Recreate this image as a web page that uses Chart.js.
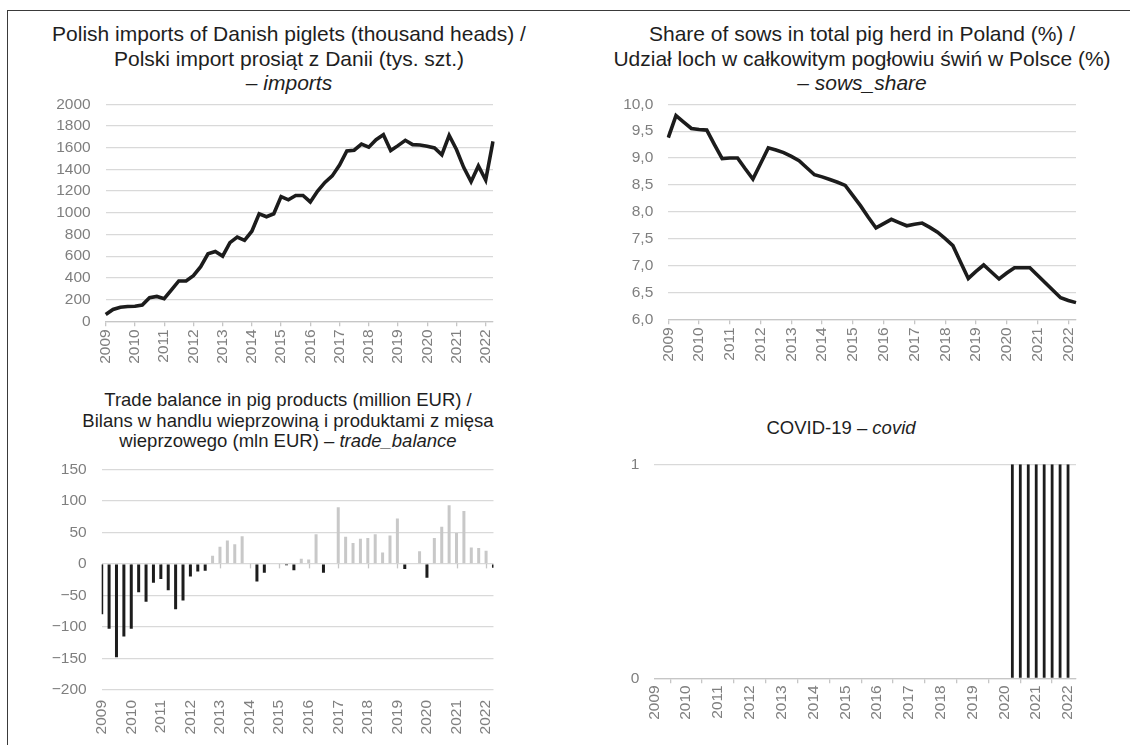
<!DOCTYPE html>
<html>
<head>
<meta charset="utf-8">
<script src="https://cdn.jsdelivr.net/npm/chart.js@4.4.1/dist/chart.umd.min.js"></script>
<style>
  html, body { margin: 0; padding: 0; background: #fff; }
  body { width: 1130px; height: 745px; position: relative; overflow: hidden; font-family: "Liberation Sans", Arial, sans-serif; }
  .frame { position: absolute; left: 7px; top: 10px; width: 1130px; height: 745px; border-top: 1.5px solid #3a3a3a; border-left: 1.5px solid #3a3a3a; }
  canvas { position: absolute; }
  .title { position: absolute; text-align: center; color: #1e1e1e; white-space: nowrap; }
  .title i { font-style: italic; }
</style>
</head>
<body>
<div class="frame"></div>

<div class="title" id="t1" style="left:9px; top:22px; width:560px; font-size:21px; line-height:24.5px;">
  Polish imports of Danish piglets (thousand heads) /<br>Polski import prosiąt z Danii (tys. szt.)<br>– <i>imports</i>
</div>
<div class="title" id="t2" style="left:582px; top:22px; width:560px; font-size:21px; line-height:24.5px;">
  Share of sows in total pig herd in Poland (%) /<br>Udział loch w całkowitym pogłowiu świń w Polsce (%)<br>– <i>sows_share</i>
</div>
<div class="title" id="t3" style="left:38px; top:390px; width:500px; font-size:18.5px; line-height:20.5px;">
  Trade balance in pig products (million EUR) /<br>Bilans w handlu wieprzowiną i produktami z mięsa<br>wieprzowego (mln EUR) – <i>trade_balance</i>
</div>
<div class="title" id="t4" style="left:591px; top:418px; width:500px; font-size:18.5px; line-height:20.5px;">
  COVID-19 – <i>covid</i>
</div>

<canvas id="c1" width="515" height="300" style="left:0px; top:80px;"></canvas>
<canvas id="c2" width="565" height="300" style="left:565px; top:80px;"></canvas>
<canvas id="c3" width="515" height="300" style="left:0px; top:445px;"></canvas>
<canvas id="c4" width="565" height="305" style="left:565px; top:440px;"></canvas>

<script>
// ---------- DATA ----------
const quarters = [
  '2009Q1','2009Q2','2009Q3','2009Q4','2010Q1','2010Q2','2010Q3','2010Q4',
  '2011Q1','2011Q2','2011Q3','2011Q4','2012Q1','2012Q2','2012Q3','2012Q4',
  '2013Q1','2013Q2','2013Q3','2013Q4','2014Q1','2014Q2','2014Q3','2014Q4',
  '2015Q1','2015Q2','2015Q3','2015Q4','2016Q1','2016Q2','2016Q3','2016Q4',
  '2017Q1','2017Q2','2017Q3','2017Q4','2018Q1','2018Q2','2018Q3','2018Q4',
  '2019Q1','2019Q2','2019Q3','2019Q4','2020Q1','2020Q2','2020Q3','2020Q4',
  '2021Q1','2021Q2','2021Q3','2021Q4','2022Q1','2022Q2'
];

const imports = [
  63, 109, 130, 136, 139, 150, 218, 229, 208, 290,
  372, 372, 420, 504, 622, 643, 601, 725, 776, 746,
  830, 991, 964, 991, 1150, 1120, 1160, 1160, 1100, 1200,
  1280, 1340, 1440, 1570, 1577, 1634, 1605, 1674, 1719, 1574,
  1619, 1668, 1628, 1625, 1614, 1598, 1535, 1713, 1583, 1417,
  1287, 1432, 1302, 1659
];

const sowsShare = [
  9.38, 9.79, 9.67, 9.55, 9.53, 9.52, 9.25, 8.99, 9.00, 9.00,
  8.80, 8.61, 8.90, 9.19, 9.15, 9.10, 9.03, 8.95, 8.82, 8.69,
  8.65, 8.60, 8.55, 8.49, 8.30, 8.11, 7.90, 7.70, 7.78, 7.86,
  7.80, 7.74, 7.77, 7.79, 7.71, 7.62, 7.50, 7.37, 7.06, 6.76,
  6.89, 7.01, 6.88, 6.75, 6.86, 6.96, 6.96, 6.96, 6.82, 6.68,
  6.54, 6.40, 6.35, 6.31
];

const tradeBalance = [
  -80, -103, -148, -115, -103, -45, -60, -30, -24, -42,
  -72, -58, -20, -12, -11, 13, 27, 37, 31, 44,
  -1, -28, -14, -1, 0, -2, -10, 8, 7, 47,
  -14, 1, 90, 43, 33, 40, 41, 47, 18, 45,
  72, -8, 0, 20, -22, 41, 59, 93, 49, 84,
  26, 25, 21, -6
];

const covid = [
  0, 0, 0, 0, 0, 0, 0, 0, 0, 0,
  0, 0, 0, 0, 0, 0, 0, 0, 0, 0,
  0, 0, 0, 0, 0, 0, 0, 0, 0, 0,
  0, 0, 0, 0, 0, 0, 0, 0, 0, 0,
  0, 0, 0, 0, 0, 1, 1, 1, 1, 1,
  1, 1, 1, 0
];

const importsTicks = { min: 0, max: 2000, step: 200 };
const sowsTicks = { min: 6, max: 10, step: 0.5 };
const tradeTicks = { min: -200, max: 150, step: 50 };
const covidTicks = { min: 0, max: 1, step: 1 };

// ---------- STYLE ----------
const FONT = '"Liberation Sans", Arial, sans-serif';
const TICK_COLOR = '#7f7f7f';
const GRID_COLOR = '#d9d9d9';
const AXIS_COLOR = '#c6c6c6';
const INK = '#1c1c1c';
const BAR_POS = '#c8c8c8';

function yearLabel(i) {
  const q = quarters[i];
  return q.endsWith('Q1') ? q.slice(0, 4) : null;
}

function xAxis(h, opts) {
  return {
    type: 'category',
    offset: false,
    grid: {
      drawOnChartArea: false,
      drawTicks: opts.ticks,
      tickLength: 5,
      color: AXIS_COLOR,
      lineWidth: 1.3
    },
    border: { display: opts.border, color: AXIS_COLOR, width: 1.3 },
    ticks: {
      autoSkip: false,
      maxRotation: 90,
      minRotation: 90,
      padding: opts.pad,
      color: TICK_COLOR,
      font: { family: FONT, size: 15.5 },
      callback: (v, i) => yearLabel(i)
    },
    afterFit: s => { s.height = h; }
  };
}

function yAxis(w, t, fmt) {
  return {
    min: t.min, max: t.max,
    grid: { color: GRID_COLOR, lineWidth: 1.3, drawTicks: false },
    border: { display: false },
    ticks: {
      stepSize: t.step,
      padding: 15,
      color: TICK_COLOR,
      font: { family: FONT, size: 15.5 },
      callback: fmt
    },
    afterFit: s => { s.width = w; }
  };
}

const common = {
  responsive: false,
  animation: false,
  devicePixelRatio: 1,
  plugins: { legend: { display: false }, tooltip: { enabled: false } }
};

const zeroTicks = {
  id: 'zeroTicks',
  beforeDatasetsDraw(chart) {
    const xs = chart.scales.x, ys = chart.scales.y;
    const y0 = ys.getPixelForValue(0);
    const ctx = chart.ctx;
    ctx.save();
    ctx.strokeStyle = AXIS_COLOR;
    ctx.lineWidth = 1.3;
    xs.ticks.forEach((t, i) => {
      if (t.label == null || t.label === '') return;
      const px = Math.round(xs.getPixelForTick(i)) + 0.5;
      ctx.beginPath();
      ctx.moveTo(px, y0);
      ctx.lineTo(px, y0 + 4.5);
      ctx.stroke();
    });
    ctx.restore();
  }
};

// 1. imports
new Chart(document.getElementById('c1'), {
  type: 'line',
  data: { labels: quarters, datasets: [{ data: imports, borderColor: INK, borderWidth: 3.6, pointRadius: 0, tension: 0, fill: false }] },
  options: Object.assign({}, common, {
    layout: { padding: { top: 20.7, right: 22, left: 0, bottom: 0 } },
    scales: {
      x: xAxis(58.7, { ticks: true, border: true, pad: 3 }),
      y: yAxis(105.7, importsTicks, v => String(v))
    }
  })
});

// 2. sows share
new Chart(document.getElementById('c2'), {
  type: 'line',
  data: { labels: quarters, datasets: [{ data: sowsShare, borderColor: INK, borderWidth: 3.6, pointRadius: 0, tension: 0, fill: false }] },
  options: Object.assign({}, common, {
    layout: { padding: { top: 21, right: 54, left: 0, bottom: 0 } },
    scales: {
      x: xAxis(60.7, { ticks: true, border: true, pad: 3 }),
      y: yAxis(103.3, sowsTicks, v => Number(v).toFixed(1).replace('.', ','))
    }
  })
});

// 3. trade balance
new Chart(document.getElementById('c3'), {
  type: 'bar',
  data: { labels: quarters, datasets: [{
    data: tradeBalance,
    backgroundColor: tradeBalance.map(v => v < 0 ? INK : BAR_POS),
    barThickness: 3,
    borderWidth: 0,
    inflateAmount: 0
  }] },
  options: Object.assign({}, common, {
    layout: { padding: { top: 18.3, right: 16.7, left: 0, bottom: 0 } },
    scales: {
      x: xAxis(55, { ticks: false, border: false, pad: 10 }),
      y: yAxis(101.7, tradeTicks, v => v < 0 ? '\u2212' + Math.abs(v) : String(v))
    }
  }),
  plugins: [zeroTicks]
});

// 4. covid
new Chart(document.getElementById('c4'), {
  type: 'bar',
  data: { labels: quarters, datasets: [{
    data: covid,
    backgroundColor: INK,
    barThickness: 2.8,
    borderWidth: 0,
    inflateAmount: 0
  }] },
  options: Object.assign({}, common, {
    layout: { padding: { top: 11, right: 54, left: 0, bottom: 0 } },
    scales: {
      x: xAxis(66.7, { ticks: true, border: true, pad: 2 }),
      y: yAxis(89.3, covidTicks, v => String(v))
    }
  })
});
</script>
</body>
</html>
